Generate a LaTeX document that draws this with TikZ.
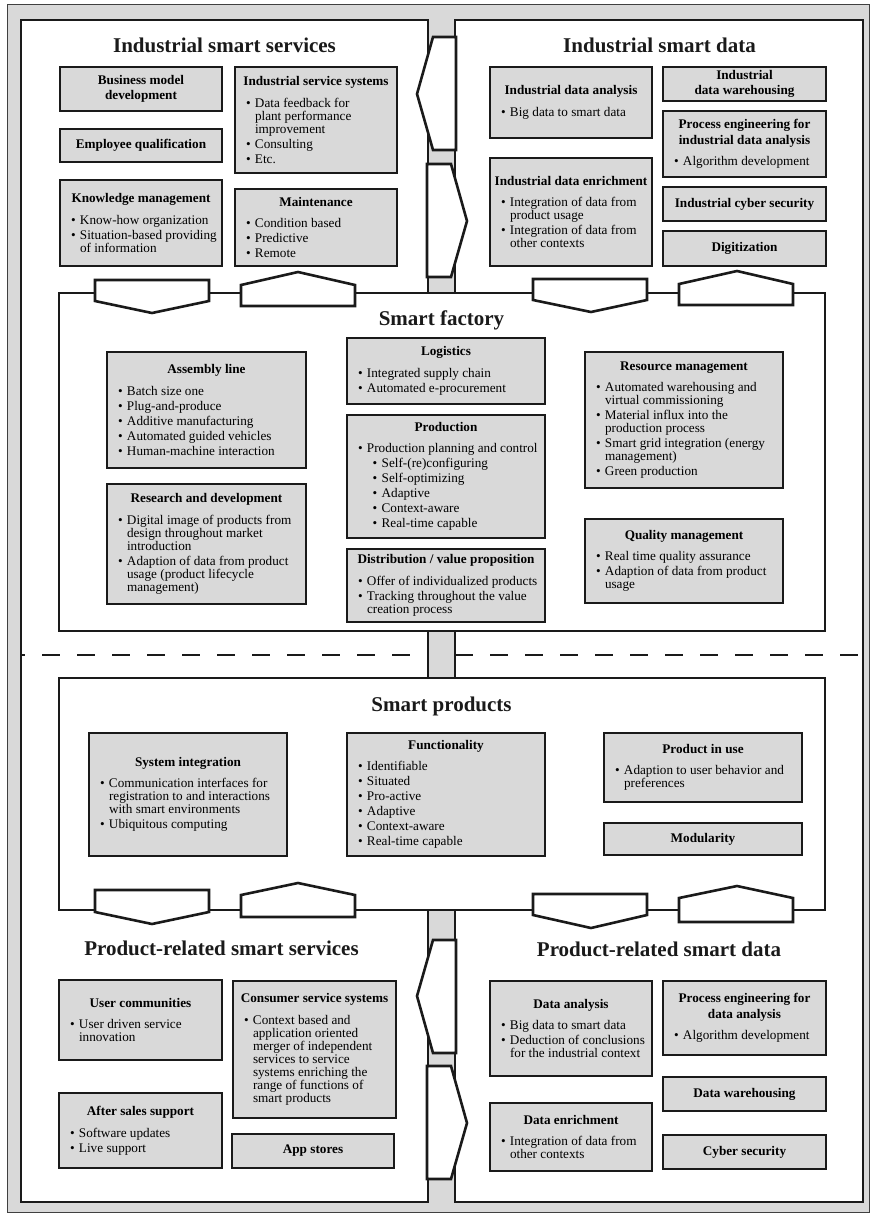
\documentclass[tikz,border=0pt]{standalone}
\usepackage{fontspec}
\setmainfont{Liberation Serif}
\definecolor{boxgray}{HTML}{D9D9D9}
\definecolor{framegray}{HTML}{D9D9D9}
\definecolor{ink}{HTML}{1A1A1A}
\newlength\bulw \setlength\bulw{9pt}
\newcommand\hdfont{\fontsize{13.2}{15.5}\selectfont\bfseries}
\newcommand\bodyfont{\fontsize{13.2}{13}\selectfont}
\newcommand\nl{\hfil\break}
\newcommand\hd[1]{{\hdfont\centering\leftskip=-20pt plus 1fil\relax\rightskip=-20pt plus 1fil\relax #1\par}\vskip 6.5pt}
\newcommand\hdonly[1]{{\hdfont\centering\leftskip=-20pt plus 1fil\relax\rightskip=-20pt plus 1fil\relax #1\par}}
\newcommand\bi[1]{\vskip 2pt{\bodyfont\parindent=0pt\rightskip=-40pt plus 1fil\relax\parfillskip=0pt\relax\noindent\hangindent=\bulw\hangafter=1\relax\makebox[\bulw][l]{\textbullet}#1\par}}
\newcommand\sbi[1]{\vskip 2pt{\bodyfont\parindent=0pt\rightskip=-40pt plus 1fil\relax\parfillskip=0pt\relax\noindent\hangindent=23.7pt\hangafter=1\relax\hspace*{14.7pt}\makebox[\bulw][l]{\textbullet}#1\par}}
\tikzset{
  panel/.style={fill=white, draw=ink, line width=2.6pt},
  arrowshape/.style={fill=white, draw=ink, line width=2.6pt, line join=miter},
  dashline/.style={draw=ink, line width=2.4pt, dash pattern=on 18pt off 17pt},
  box/.style={rectangle, fill=boxgray, draw=ink, line width=1.3pt, inner xsep=11pt, inner ysep=0pt},
  title/.style={inner sep=0pt, anchor=base, font=\fontsize{21}{21}\selectfont\bfseries, text=ink}
}
\newcommand\bx[6]{%
  \pgfmathsetmacro\bw{#4-#2}\pgfmathsetmacro\bh{#5-#3}\pgfmathsetmacro\tw{#4-#2-22}%
  \node[box, minimum width=\bw pt, minimum height=\bh pt, text width=\tw pt] (#1) at ({(#2+#4)/2},{(#3+#5)/2}) {#6};}
\begin{document}
\begin{tikzpicture}[x=1pt,y=-1pt]
\useasboundingbox (0,0) rectangle (871,1215);
% outer frame and panels
\draw[fill=framegray, draw=black!75, line width=1pt] (7,5) rectangle (869,1212);
\draw[panel] (21,20) rectangle (428,1202);
\draw[panel] (455,20) rectangle (863,1202);
% dashed separator
\draw[dashline, dash phase=14pt] (21,655) -- (428,655);
\draw[dashline, dash phase=0pt] (455,655) -- (863,655);
% smart factory and smart products frames
\draw[panel] (59,293) rectangle (825,631);
\draw[panel] (59,678) rectangle (825,910);
% arrows in the central strip (top)
\draw[arrowshape] (456,37) -- (433,37) -- (417,94) -- (433,150) -- (456,150) -- cycle;
\draw[arrowshape] (427,164) -- (451,164) -- (467,221) -- (451,277) -- (427,277) -- cycle;
% arrows in the central strip (bottom)
\draw[arrowshape] (456,940) -- (433,940) -- (417,996) -- (433,1053) -- (456,1053) -- cycle;
\draw[arrowshape] (427,1066) -- (451,1066) -- (467,1123) -- (451,1179) -- (427,1179) -- cycle;
% arrows on smart factory top edge
\draw[arrowshape] (95,280) -- (209,280) -- (209,301) -- (152,313) -- (95,301) -- cycle;
\draw[arrowshape] (241,306) -- (241,285) -- (298,272) -- (355,285) -- (355,306) -- cycle;
\draw[arrowshape] (533,279) -- (647,279) -- (647,300) -- (591,312) -- (533,300) -- cycle;
\draw[arrowshape] (679,305) -- (679,284) -- (737,271) -- (793,284) -- (793,305) -- cycle;
% arrows on smart products bottom edge
\draw[arrowshape] (95,890) -- (209,890) -- (209,912) -- (152,924) -- (95,912) -- cycle;
\draw[arrowshape] (241,917) -- (241,895) -- (298,883) -- (355,895) -- (355,917) -- cycle;
\draw[arrowshape] (533,894) -- (647,894) -- (647,915) -- (591,928) -- (533,915) -- cycle;
\draw[arrowshape] (679,922) -- (679,898) -- (737,886) -- (793,898) -- (793,922) -- cycle;
% titles
\node[title] (tiss) at (224.5,52.3) {Industrial smart services};
\node[title] (tisd) at (659.5,52.3) {Industrial smart data};
\node[title] (tsf) at (441.5,325) {Smart factory};
\node[title] (tsp) at (441.5,711) {Smart products};
\node[title] (tprss) at (221.5,955.7) {Product-related smart services};
\node[title] (tprsd) at (659,956) {Product-related smart data};
% industrial smart services
\bx{bm}{60}{67}{222}{111}{\hdonly{Business model\\development}}
\bx{eq}{60}{129}{222}{162}{\hdonly{Employee qualification}}
\bx{km}{60}{180}{222}{266}{\hd{Knowledge management}\bi{Know-how organization}\bi{Situation-based providing\nl of information}}
\bx{iss}{235}{67}{397}{173}{\hd{Industrial service systems}\bi{Data feedback for\nl plant performance\nl improvement}\bi{Consulting}\bi{Etc.}}
\bx{mt}{235}{189}{397}{266}{\hd{Maintenance}\bi{Condition based}\bi{Predictive}\bi{Remote}}
% industrial smart data
\bx{ida}{490}{67}{652}{138}{\hd{Industrial data analysis}\bi{Big data to smart data}}
\bx{ide}{490}{158}{652}{266}{\hd{Industrial data enrichment}\bi{Integration of data from\nl product usage}\bi{Integration of data from\nl other contexts}}
\bx{idw}{663}{67}{826}{101}{\hdonly{Industrial\\data warehousing}}
\bx{pei}{663}{111}{826}{177}{\hd{Process engineering for\\industrial data analysis}\bi{Algorithm development}}
\bx{ics}{663}{187}{826}{221}{\hdonly{Industrial cyber security}}
\bx{dig}{663}{231}{826}{266}{\hdonly{Digitization}}
% smart factory
\bx{al}{107}{352}{306}{468}{\hd{Assembly line}\bi{Batch size one}\bi{Plug-and-produce}\bi{Additive manufacturing}\bi{Automated guided vehicles}\bi{Human-machine interaction}}
\bx{rd}{107}{484}{306}{604}{\hd{Research and development}\bi{Digital image of products from\nl design throughout market\nl introduction}\bi{Adaption of data from product\nl usage (product lifecycle\nl management)}}
\bx{lo}{347}{338}{545}{404}{\hd{Logistics}\bi{Integrated supply chain}\bi{Automated e-procurement}}
\bx{pr}{347}{415}{545}{538}{\hd{Production}\bi{Production planning and control}\sbi{Self-(re)configuring}\sbi{Self-optimizing}\sbi{Adaptive}\sbi{Context-aware}\sbi{Real-time capable}}
\bx{dv}{347}{549}{545}{622}{\hd{Distribution / value proposition}\bi{Offer of individualized products}\bi{Tracking throughout the value\nl creation process}}
\bx{rm}{585}{352}{783}{488}{\hd{Resource management}\bi{Automated warehousing and\nl virtual commissioning}\bi{Material influx into the\nl production process}\bi{Smart grid integration (energy\nl management)}\bi{Green production}}
\bx{qm}{585}{519}{783}{603}{\hd{Quality management}\bi{Real time quality assurance}\bi{Adaption of data from product\nl usage}}
% smart products
\bx{si}{89}{733}{287}{856}{\hd{System integration}\bi{Communication interfaces for\nl registration to and interactions\nl with smart environments}\bi{Ubiquitous computing}}
\bx{fn}{347}{733}{545}{856}{\hd{Functionality}\bi{Identifiable}\bi{Situated}\bi{Pro-active}\bi{Adaptive}\bi{Context-aware}\bi{Real-time capable}}
\bx{pu}{604}{733}{802}{802}{\hd{Product in use}\bi{Adaption to user behavior and\nl preferences}}
\bx{md}{604}{823}{802}{855}{\hdonly{Modularity}}
% product-related smart services
\bx{uc}{59}{980}{222}{1060}{\hd{User communities}\bi{User driven service\nl innovation}}
\bx{as}{59}{1093}{222}{1168}{\hd{After sales support}\bi{Software updates}\bi{Live support}}
\bx{cs}{233}{981}{396}{1118}{\hd{Consumer service systems}\bi{Context based and\nl application oriented\nl merger of independent\nl services to service\nl systems enriching the\nl range of functions of\nl smart products}}
\bx{ap}{232}{1134}{394}{1168}{\hdonly{App stores}}
% product-related smart data
\bx{da}{490}{981}{652}{1076}{\hd{Data analysis}\bi{Big data to smart data}\bi{Deduction of conclusions\nl for the industrial context}}
\bx{de}{490}{1103}{652}{1171}{\hd{Data enrichment}\bi{Integration of data from\nl other contexts}}
\bx{pe}{663}{981}{826}{1055}{\hd{Process engineering for\\data analysis}\bi{Algorithm development}}
\bx{dw}{663}{1077}{826}{1111}{\hdonly{Data warehousing}}
\bx{cy}{663}{1135}{826}{1169}{\hdonly{Cyber security}}
\end{tikzpicture}
\end{document}
